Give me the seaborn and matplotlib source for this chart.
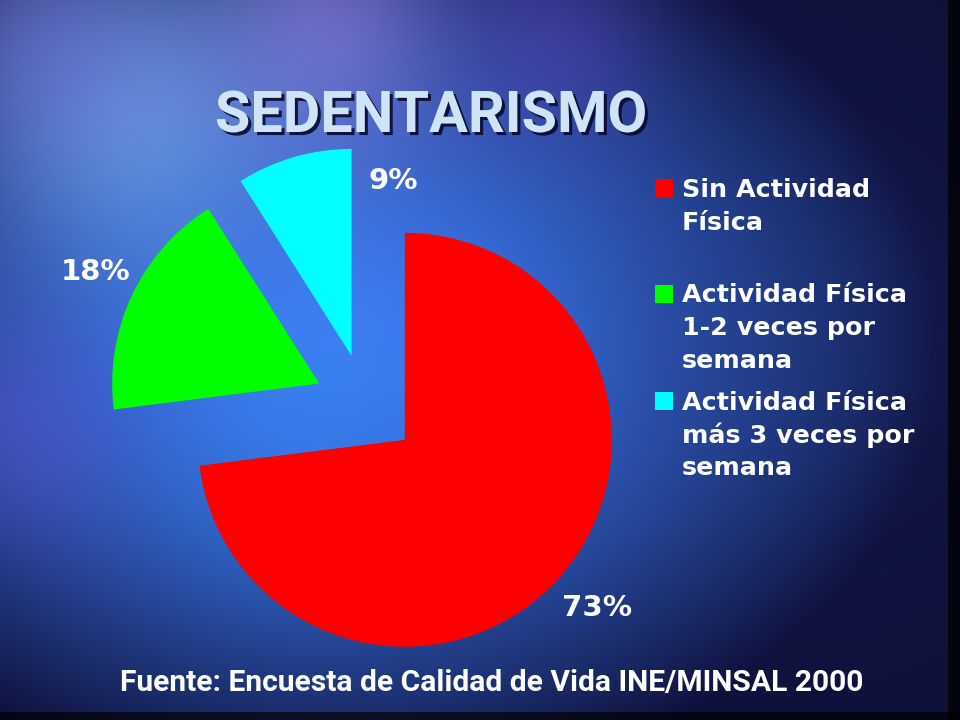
import numpy as np
import matplotlib
matplotlib.use("Agg")
import matplotlib.pyplot as plt
import matplotlib.patheffects as pe
from matplotlib.patches import Rectangle
import seaborn as sns

sns.set_style("white")
plt.rcParams['font.family'] = ['DejaVu Sans']

# data
categories = ["Sin Actividad Física",
              "Actividad Física 1-2 veces por semana",
              "Actividad Física más 3 veces por semana"]
legend_lines = [["Sin Actividad", "Física"],
                ["Actividad Física", "1-2 veces por", "semana"],
                ["Actividad Física", "más 3 veces por", "semana"]]
percent = [73, 18, 9]
slice_colors = ["#FF0000", "#00FF00", "#00FFFF"]
title_text = "SEDENTARISMO"
source_text = "Fuente: Encuesta de Calidad de Vida INE/MINSAL 2000"

W, H = 960, 720

# slide background (blue glow)
yy, xx = np.mgrid[0:H, 0:W].astype(float)
r = np.hypot((xx - 340) / 600, (yy - 340) / 450)
t = np.clip(r, 0, 1) ** 1.5
inner = np.array([0.24, 0.48, 0.95])
outer = np.array([0.06, 0.07, 0.24])
img = inner * (1 - t)[..., None] + outer * t[..., None]
blobs = [(130, 110, 110, (0.50, 0.72, 0.98), 0.6),
         (330, 25, 90, (0.66, 0.56, 0.95), 0.5),
         (40, 40, 80, (0.45, 0.45, 0.85), 0.5),
         (560, 40, 70, (0.38, 0.28, 0.78), 0.4),
         (20, 430, 80, (0.36, 0.34, 0.85), 0.45),
         (300, 430, 110, (0.20, 0.55, 0.97), 0.35),
         (780, 330, 120, (0.14, 0.24, 0.55), 0.3)]
for cx, cy, s, col, a in blobs:
    w = a * np.exp(-((xx - cx) ** 2 + (yy - cy) ** 2) / (2 * s ** 2))
    img = img * (1 - w)[..., None] + np.array(col) * w[..., None]
img[:, 948:] *= 0.25
img[712:, :] *= 0.35
img = np.clip(img, 0, 1)

fig = plt.figure(figsize=(9.6, 7.2), dpi=100)
bg = fig.add_axes([0, 0, 1, 1])
bg.imshow(img, extent=(0, W, H, 0), interpolation='bilinear')
bg.set_xlim(0, W)
bg.set_ylim(H, 0)
bg.axis('off')

# pie
R, cx, cy = 207, 366, 405.6
half = 1.5 * R
pie_ax = fig.add_axes([(cx - half) / W, (H - cy - half) / H, 2 * half / W, 2 * half / H])
pie_ax.pie(percent, colors=slice_colors, startangle=90, counterclock=False,
           explode=[0.25] * len(percent), radius=1,
           wedgeprops=dict(linewidth=0))
pie_ax.set_xlim(-1.5, 1.5)
pie_ax.set_ylim(-1.5, 1.5)
pie_ax.axis('off')

# percentage labels
pct_pos = [(597, 608), (96, 272), (393, 181)]
for v, (x, y) in zip(percent, pct_pos):
    bg.text(x, y, f"{v}%", color='white', fontsize=21, fontweight='bold',
            ha='center', va='center')

# legend
first_baselines = [197, 302.5, 410]
for lines, col, b0 in zip(legend_lines, slice_colors, first_baselines):
    bg.add_patch(Rectangle((655, b0 - 18), 18, 18, facecolor=col, edgecolor='none'))
    for i, line in enumerate(lines):
        bg.text(682, b0 + i * 32.7, line, color='white', fontsize=18.3,
                fontweight='bold', ha='left', va='baseline')

renderer = fig.canvas.get_renderer()


def fit_width(txt, target):
    w = txt.get_window_extent(renderer).width
    txt.set_fontsize(txt.get_fontsize() * target / w)


title = bg.text(431, 132, title_text, color='#D0E4F8', fontsize=40,
                fontweight='bold', family=['Roboto', 'DejaVu Sans'],
                ha='center', va='baseline',
                path_effects=[pe.SimplePatchShadow(offset=(2.2, -2.2),
                                                   shadow_rgbFace='#0a0a30', alpha=0.9),
                              pe.Normal()])
fit_width(title, 432)

source = bg.text(492, 691, source_text, color='white', fontsize=18,
                 fontweight='bold', family=['Roboto', 'DejaVu Sans'],
                 ha='center', va='baseline')
fit_width(source, 745)

fig.savefig("out.png", dpi=100)
plt.close(fig)
